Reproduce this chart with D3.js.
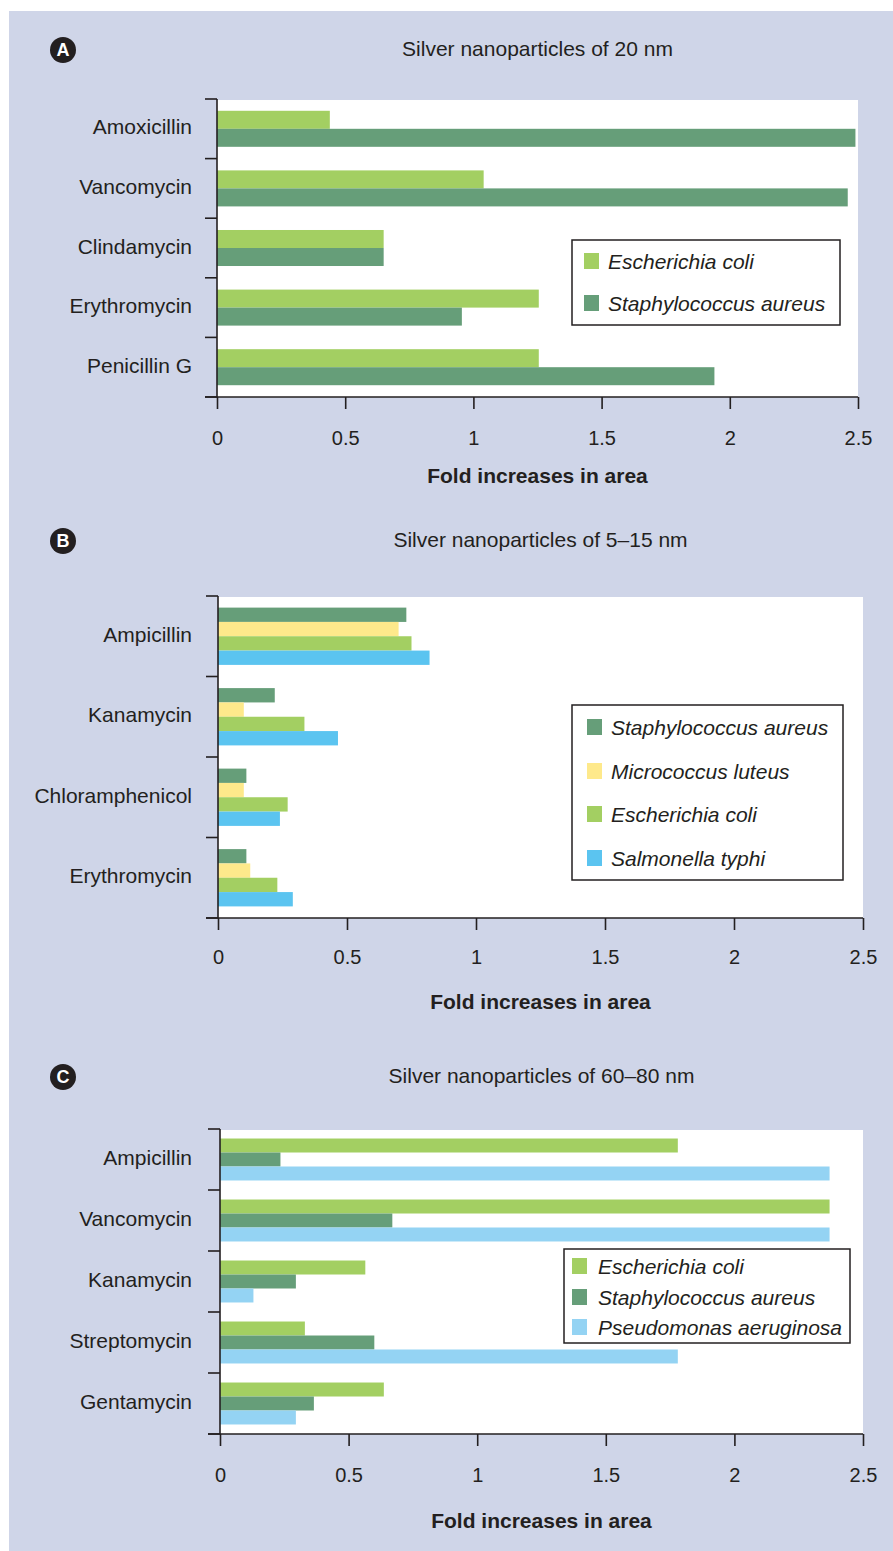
<!DOCTYPE html>
<html>
<head>
<meta charset="utf-8">
<script src="https://cdn.jsdelivr.net/npm/d3@7"></script>
<style>
  body { margin: 0; background: #fff; }
  svg text { font-family: "Liberation Sans", Arial, sans-serif; fill: #231f20; }
</style>
</head>
<body>
<svg id="chart" width="893" height="1551"></svg>
<script>
// panel A - 20 nm
var catsA = ["Amoxicillin", "Vancomycin", "Clindamycin", "Erythromycin", "Penicillin G"];
var seriesA = ["Escherichia coli", "Staphylococcus aureus"];
var ecoliA = [0.44, 1.04, 0.65, 1.255, 1.255];
var saureusA = [2.49, 2.46, 0.65, 0.955, 1.94];

// panel B - 5-15 nm
var catsB = ["Ampicillin", "Kanamycin", "Chloramphenicol", "Erythromycin"];
var seriesB = ["Staphylococcus aureus", "Micrococcus luteus", "Escherichia coli", "Salmonella typhi"];
var saureusB = [0.73, 0.22, 0.11, 0.11];
var mluteusB = [0.70, 0.10, 0.10, 0.125];
var ecoliB = [0.75, 0.335, 0.27, 0.23];
var styphiB = [0.82, 0.465, 0.24, 0.29];

// panel C - 60-80 nm
var catsC = ["Ampicillin", "Vancomycin", "Kanamycin", "Streptomycin", "Gentamycin"];
var seriesC = ["Escherichia coli", "Staphylococcus aureus", "Pseudomonas aeruginosa"];
var ecoliC = [1.78, 2.37, 0.565, 0.33, 0.637];
var saureusC = [0.235, 0.67, 0.295, 0.60, 0.365];
var paeruginosaC = [2.37, 2.37, 0.13, 1.78, 0.295];

var xTicks = [0, 0.5, 1, 1.5, 2, 2.5];

var colors = {
    "Escherichia coli": "#a3cf62",
    "Staphylococcus aureus": "#669e79",
    "Micrococcus luteus": "#fee98b",
    "Salmonella typhi": "#5bc4f0",
    "Pseudomonas aeruginosa": "#94d3f3"
};
var ink = "#231f20";

var svg = d3.select("#chart");

svg.append("rect")
    .attr("x", 9).attr("y", 11)
    .attr("width", 884).attr("height", 1540)
    .attr("fill", "#cfd5e8");

function panel(opts) {
    var g = svg.append("g");
    var left = opts.x[0], right = opts.x[1], top = opts.y[0], bottom = opts.y[1];

    var xScale = d3.scaleLinear().domain([0, 2.5]).range([left, right]);
    var yScale = d3.scaleBand().domain(opts.cats).range([top, bottom]);
    var ySub = d3.scaleBand().domain(opts.series)
        .range([0, yScale.bandwidth()])
        .paddingOuter(opts.barPad);

    var rows = opts.cats.map(function (c, i) {
        var r = {cat: c};
        opts.series.forEach(function (s, j) { r[s] = opts.values[j][i]; });
        return r;
    });

    // white plot area
    g.append("rect")
        .attr("x", left).attr("y", top + 1)
        .attr("width", right - left).attr("height", bottom - top - 1)
        .attr("fill", "#fff");

    // badge + title
    g.append("circle").attr("cx", 63).attr("cy", opts.titleY + 2).attr("r", 13).attr("fill", ink);
    g.append("text")
        .attr("x", 63).attr("y", opts.titleY + 2).attr("dy", "0.36em")
        .attr("text-anchor", "middle")
        .style("font-weight", "bold").style("font-size", "18px").style("fill", "#fff")
        .text(opts.letter);
    g.append("text")
        .attr("x", (left + right) / 2).attr("y", opts.titleY).attr("dy", "0.36em")
        .attr("text-anchor", "middle").style("font-size", "21px")
        .text(opts.title);

    // bars
    var groups = g.selectAll(".grp").data(rows).enter().append("g")
        .attr("transform", function (d) { return "translate(0," + yScale(d.cat) + ")"; });
    groups.selectAll("rect")
        .data(function (d) { return opts.series.map(function (s) { return {s: s, v: d[s]}; }); })
        .enter().append("rect")
        .attr("x", xScale(0))
        .attr("y", function (d) { return ySub(d.s); })
        .attr("width", function (d) { return xScale(d.v) - xScale(0); })
        .attr("height", ySub.bandwidth())
        .attr("fill", function (d) { return colors[d.s]; });

    // x axis
    var xAxis = d3.axisBottom(xScale)
        .tickValues(xTicks)
        .tickSize(12)
        .tickPadding(opts.tickPad)
        .tickSizeOuter(0)
        .tickFormat(d3.format("~g"));
    var xg = g.append("g")
        .attr("transform", "translate(0," + bottom + ")")
        .call(xAxis);
    xg.select(".domain").remove();
    xg.selectAll("line").attr("stroke", ink).attr("stroke-width", 1.6);
    xg.selectAll("text").style("font-size", "20px").style("fill", ink)
        .style("font-family", '"Liberation Sans", Arial, sans-serif');

    // axis lines
    g.append("line")
        .attr("x1", left - 12).attr("x2", right)
        .attr("y1", bottom).attr("y2", bottom)
        .attr("stroke", ink).attr("stroke-width", 1.6);
    g.append("line")
        .attr("x1", left).attr("x2", left)
        .attr("y1", top).attr("y2", bottom)
        .attr("stroke", ink).attr("stroke-width", 1.6);

    // category boundary ticks
    var bounds = opts.cats.map(function (c) { return yScale(c); }).concat([bottom]);
    g.selectAll(".ytick").data(bounds).enter().append("line")
        .attr("x1", left - 12).attr("x2", left)
        .attr("y1", function (d) { return d; }).attr("y2", function (d) { return d; })
        .attr("stroke", ink).attr("stroke-width", 1.6);

    g.selectAll(".ylab").data(opts.cats).enter().append("text")
        .attr("x", 192)
        .attr("y", function (d) { return yScale(d) + yScale.bandwidth() / 2 - 2; })
        .attr("dy", "0.36em")
        .attr("text-anchor", "end")
        .style("font-size", "21px")
        .text(function (d) { return d; });

    g.append("text")
        .attr("x", (left + right) / 2).attr("y", opts.axisTitleY).attr("dy", "0.36em")
        .attr("text-anchor", "middle")
        .style("font-size", "21px").style("font-weight", "bold")
        .text("Fold increases in area");

    // legend
    var lg = opts.legend;
    g.append("rect")
        .attr("x", lg.x).attr("y", lg.y)
        .attr("width", lg.w).attr("height", lg.h)
        .attr("fill", "#fff").attr("stroke", ink).attr("stroke-width", 1.5);
    var items = g.selectAll(".leg").data(opts.series).enter().append("g")
        .attr("transform", function (d, i) { return "translate(" + lg.mx + "," + lg.rows[i] + ")"; });
    items.append("rect")
        .attr("x", 0).attr("y", -8)
        .attr("width", 15).attr("height", 16)
        .attr("fill", function (d) { return colors[d]; });
    items.append("text")
        .attr("x", lg.tx - lg.mx).attr("y", 0).attr("dy", "0.36em")
        .style("font-size", "21px").style("font-style", "italic")
        .text(function (d) { return d; });
}

panel({
    letter: "A", title: "Silver nanoparticles of 20 nm", titleY: 48,
    cats: catsA, series: seriesA, values: [ecoliA, saureusA],
    x: [217, 858], y: [99, 397], barPad: 0.655,
    tickPad: 22, axisTitleY: 475,
    legend: {x: 572, y: 240, w: 268, h: 85, mx: 584, tx: 608, rows: [261, 303]}
});

panel({
    letter: "B", title: "Silver nanoparticles of 5\u201315 nm", titleY: 539,
    cats: catsB, series: seriesB, values: [saureusB, mluteusB, ecoliB, styphiB],
    x: [218, 863], y: [596, 918], barPad: 0.81,
    tickPad: 20, axisTitleY: 1001,
    legend: {x: 572, y: 705, w: 271, h: 175, mx: 587, tx: 611, rows: [727, 771, 814, 858]}
});

panel({
    letter: "C", title: "Silver nanoparticles of 60\u201380 nm", titleY: 1075,
    cats: catsC, series: seriesC, values: [ecoliC, saureusC, paeruginosaC],
    x: [220, 863], y: [1129, 1434], barPad: 0.68,
    tickPad: 22, axisTitleY: 1520,
    legend: {x: 564, y: 1249, w: 286, h: 94, mx: 572, tx: 598, rows: [1266, 1297, 1327]}
});
</script>
</body>
</html>
